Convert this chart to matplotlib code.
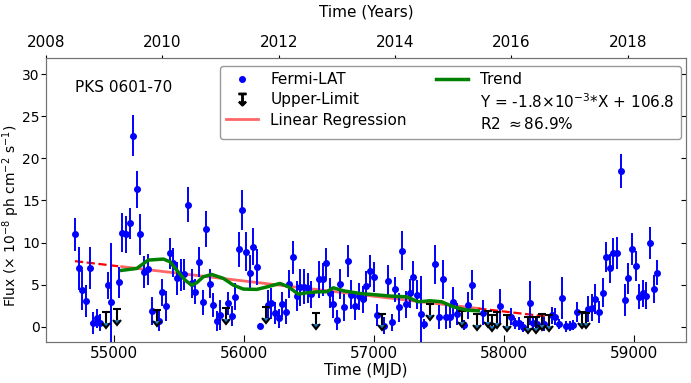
import matplotlib
matplotlib.use("Agg")
import matplotlib.pyplot as plt
from matplotlib.lines import Line2D, TICKLEFT
import numpy as np

# ---- data ----
mjd = [54700, 54731, 54756, 54784, 54812, 54841, 54867, 54895, 54952, 54977,
       55041, 55064, 55090, 55120, 55146, 55174, 55203, 55231, 55259, 55290,
       55344, 55372, 55400, 55431, 55456, 55482, 55513, 55541, 55567, 55597,
       55623, 55651, 55682, 55705, 55736, 55764, 55792, 55818, 55874, 55905,
       55931, 55959, 55987, 56015, 56044, 56072, 56100, 56126, 56182, 56210,
       56238, 56267, 56295, 56323, 56349, 56379, 56408, 56433, 56464, 56490,
       56515, 56574, 56605, 56631, 56662, 56687, 56713, 56741, 56772, 56797,
       56823, 56854, 56885, 56913, 56941, 56969, 56997, 57023,
       57079, 57107, 57136, 57164, 57189, 57218, 57246, 57277, 57302, 57330,
       57359, 57384, 57471, 57497, 57528, 57553, 57582, 57610, 57638, 57694,
       57723, 57751, 57841, 57969, 58054, 58085, 58115, 58143, 58200, 58225,
       58256, 58310, 58366, 58395, 58423, 58449, 58477, 58505, 58533, 58562,
       58648, 58674, 58702, 58730, 58758, 58784, 58812, 58841, 58869, 58900,
       58928, 58954, 58985, 59013, 59039, 59067, 59095, 59126, 59151, 59179]
flux = [10.97, 6.93, 4.36, 3.05, 6.93, 0.48, 1.0, 0.48, 4.95, 2.9,
        5.27, 11.17, 10.97, 12.28, 22.7, 16.3, 10.97, 6.53, 6.81, 1.86,
        0.71, 4.08, 2.5, 8.71, 7.6, 5.74, 6.14, 6.22, 14.5, 5.15,
        4.16, 7.72, 2.9, 11.6, 5.11, 2.58, 0.67, 1.39, 2.78, 1.27,
        3.56, 9.19, 13.86, 8.9, 6.41, 9.5, 7.12, 0.12, 2.58, 2.78,
        1.66, 1.0, 2.66, 1.78, 5.07, 8.24, 3.64, 4.67, 4.75, 4.63,
        3.84, 5.63, 5.63, 7.52, 4.04, 2.66, 0.79, 5.11, 2.3, 7.8,
        3.8, 2.46, 3.6, 3.3, 4.83, 6.63, 5.94, 1.39,
        0.12, 5.43, 0.52, 4.44, 2.3, 9.03, 2.7, 3.96, 5.86, 3.8,
        1.5, 0.3, 7.41, 1.15, 5.63, 1.19, 1.19, 2.97, 1.47, 0.2,
        2.58, 4.95, 1.7, 2.5, 1.19, 0.4, 0.4, 0.0, 2.8, 0.4,
        0.36, 0.36, 1.39, 1.19, 0.36, 3.4, 0.04, 0.08, 0.2, 1.8,
        2.1, 2.25, 3.27, 1.8, 4.04, 8.32, 6.93, 8.8, 8.8, 18.5,
        3.2, 5.74, 9.19, 7.2, 3.56, 3.96, 3.68, 10.0, 4.5, 6.41]
flux_err = [2.0, 2.6, 2.4, 1.9, 2.5, 1.3, 1.1, 1.0, 1.6, 7.0,
            1.8, 2.3, 2.2, 1.8, 2.4, 2.2, 2.4, 1.9, 1.8, 1.7,
            1.2, 1.6, 1.8, 1.8, 1.7, 2.0, 1.9, 1.8, 2.1, 1.7,
            1.5, 1.8, 1.5, 2.1, 1.7, 1.4, 1.2, 1.8, 1.4, 1.2,
            1.6, 2.1, 2.4, 2.3, 2.1, 2.2, 2.1, 0.3, 1.8, 1.8,
            1.3, 1.1, 1.5, 1.5, 1.7, 2.0, 1.8, 2.2, 2.1, 1.8,
            1.6, 2.2, 2.0, 1.8, 1.8, 1.6, 1.2, 1.8, 1.6, 1.9,
            1.7, 1.6, 1.6, 1.6, 1.8, 1.9, 1.8, 1.3,
            1.0, 1.9, 1.0, 1.5, 1.7, 2.3, 1.6, 1.7, 2.0, 1.7,
            4.5, 0.6, 2.3, 1.4, 2.3, 1.4, 1.3, 1.8, 1.3, 0.6,
            1.6, 1.8, 1.5, 2.0, 1.0, 0.6, 0.8, 0.6, 2.6, 0.8,
            0.8, 0.8, 1.0, 1.0, 0.6, 2.5, 0.6, 0.6, 0.6, 1.2,
            1.5, 1.6, 1.8, 1.3, 1.7, 1.8, 1.7, 1.8, 1.9, 2.0,
            1.9, 1.8, 1.9, 1.8, 1.5, 1.6, 1.6, 1.9, 1.7, 1.5]

ul_mjd = [54936, 55021, 55328, 55859, 56167, 56556, 57064, 57428, 57679, 57789,
          57880, 57910, 57943, 58020, 58182, 58243, 58294, 58349, 58602, 58628]
ul_flux = [1.71, 2.1, 1.98, 2.18, 2.38, 1.59, 1.51, 2.7, 1.9, 1.51,
           1.9, 1.4, 1.75, 1.4, 1.19, 1.19, 1.51, 1.35, 1.78, 1.7]

trend_mjd = [55059, 55175, 55264, 55380, 55431, 55482, 55546, 55597, 55636, 55687,
             55751, 55841, 55918, 55995, 56098, 56200, 56277, 56341, 56418, 56482,
             56572, 56636, 56687, 56764, 56892, 57046, 57123, 57251, 57341, 57431,
             57521, 57610, 57713, 57802]
trend_flux = [6.7, 6.93, 7.92, 8.04, 7.72, 6.73, 5.55, 4.95, 5.23, 5.94,
              6.22, 5.75, 4.95, 4.48, 4.44, 4.83, 5.15, 4.75, 3.88, 4.04,
              4.16, 4.16, 4.63, 4.28, 3.96, 3.76, 3.65, 3.56, 2.97, 3.09,
              2.97, 2.38, 1.98, 1.9]

reg_slope = -1.81e-3
reg_intercept = 106.8
reg_solid_range = [55059, 57802]
reg_dash_before = [54700, 55059]
reg_dash_after = [57802, 58400]

year_ticks = [2008, 2010, 2012, 2014, 2016, 2018]

# ---- figure ----
fig = plt.figure(figsize=(6.91, 3.83), dpi=100)
ax = fig.add_axes([46/691, 41/383, 640/691, 284/383])

FS = 11
spine_col = '0.45'

ax.errorbar(mjd, flux, yerr=flux_err, fmt='o', color='blue', ms=4,
            elinewidth=1.4, capsize=0, zorder=3)
ul_len = [1.3] * len(ul_mjd)
ax.errorbar(ul_mjd, ul_flux, yerr=ul_len, uplims=True, fmt='none', ecolor='k',
            elinewidth=1.5, capsize=2.6, capthick=1.5, zorder=4)

reg_line = lambda xs: [reg_slope * v + reg_intercept for v in xs]
h_reg, = ax.plot(reg_solid_range, reg_line(reg_solid_range), color='red', alpha=0.6, lw=2,
                 zorder=2)
ax.plot(reg_dash_before, reg_line(reg_dash_before), color='red', ls='--', lw=1.6, zorder=2)
ax.plot(reg_dash_after, reg_line(reg_dash_after), color='red', ls='--', lw=1.6, zorder=2)

h_trend, = ax.plot(trend_mjd, trend_flux, color='green', lw=2.5, zorder=5)

h_ul = Line2D([], [], ls='none', marker=r'$↧$', color='k', ms=9)
h_pt = Line2D([], [], ls='none', marker='o', color='blue', ms=4)
h_eq = Line2D([], [], ls='none')
h_r2 = Line2D([], [], ls='none')

ax.set_xlim(54477, 59400)
ax.set_ylim(-1.8, 31.9)
ax.set_yticks([0, 5, 10, 15, 20, 25, 30])
ax.set_xticks([55000, 56000, 57000, 58000, 59000])
ax.tick_params(axis='both', labelsize=FS, colors='black')
ax.tick_params(axis='x', direction='in', length=5, pad=3)
ax.tick_params(axis='y', right=True, direction='out', length=3.5, pad=1, labelsize=10)
for t in ax.yaxis.get_major_ticks():
    t.tick2line.set_marker(TICKLEFT)
ax.set_xlabel('Time (MJD)', fontsize=FS, labelpad=1)
ax.set_ylabel(r'Flux ($\times$ 10$^{-8}$ ph cm$^{-2}$ s$^{-1}$)', fontsize=10)
ax.yaxis.set_label_coords(-0.037, 0.445)
for s in ax.spines.values():
    s.set_color(spine_col)

ax.text(0.045, 0.895, 'PKS 0601-70', transform=ax.transAxes, fontsize=FS,
        va='center', ha='left')

ax.legend([h_pt, h_ul, h_reg, h_trend, h_eq, h_r2],
          ['Fermi-LAT', 'Upper-Limit', 'Linear Regression', 'Trend',
           r'Y = -1.8$\times$10$^{-3}$*X + 106.8', r'R2 $\approx$86.9%'],
          loc='upper right', ncol=2, fontsize=FS, bbox_to_anchor=(0.992, 0.972),
          borderaxespad=0.0,
          handlelength=2.1, handletextpad=0.8, columnspacing=1.9, labelspacing=0.35,
          borderpad=0.4, framealpha=1.0, edgecolor='0.6')

ax2 = ax.twiny()
ax2.set_xlim(2008, 2019)
ax2.set_xticks(year_ticks)
ax2.tick_params(axis='x', labelsize=FS, length=2, pad=4)
ax2.set_xlabel('Time (Years)', fontsize=FS, labelpad=13)
for s in ax2.spines.values():
    s.set_color(spine_col)

fig.savefig('out.png', dpi=100)
